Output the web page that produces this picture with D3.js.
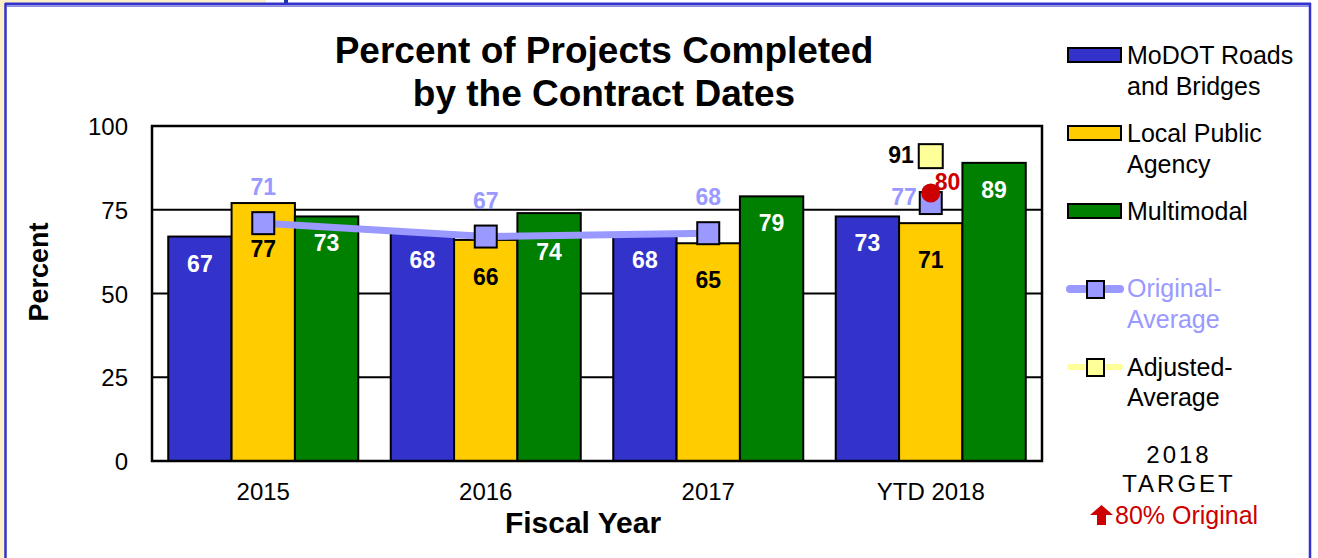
<!DOCTYPE html>
<meta charset="utf-8">
<html>
<head>
<title>Percent of Projects Completed</title>
<script src="https://d3js.org/d3.v7.min.js"></script>
<style>
    body { margin: 0; background: #fff; }
    text { font-family: Arial, "Liberation Sans", sans-serif; }
</style>
</head>
<body>
<div class="chart"></div>
<script>
// data
var years = ["2015", "2016", "2017", "YTD 2018"];
var modot = [67, 68, 68, 73];
var lpa = [77, 66, 65, 71];
var multimodal = [73, 74, 79, 89];
var originalAvg = [71, 67, 68, 77];
var adjustedAvg = [null, null, null, 91];
var target2018 = 80;
var yTicks = [0, 25, 50, 75, 100];
var seriesNames = ["MoDOT Roads|and Bridges", "Local Public|Agency", "Multimodal"];
var seriesColors = ["#3333cc", "#ffcc00", "#008000"];

var W = 1318, H = 558;
var plot = {left: 152, right: 1042, top: 126, bottom: 461};

var svg = d3.select(".chart").append("svg")
    .attr("width", W)
    .attr("height", H);

// frame and the bits of page around it
svg.append("rect").attr("x", 0).attr("y", 0).attr("width", 266).attr("height", 5).style("fill", "#fdf0c8");
svg.append("rect").attr("x", 0).attr("y", 0).attr("width", 5).attr("height", H).style("fill", "#fdf0c8");
svg.append("rect").attr("x", 284).attr("y", 0).attr("width", 4).attr("height", 5).style("fill", "#2233aa");
svg.append("line").attr("x1", 5).attr("x2", 1311).attr("y1", 4).attr("y2", 4)
    .style("stroke", "#3333cc").style("stroke-width", 3);
svg.append("line").attr("x1", 7).attr("x2", 1309).attr("y1", 6.5).attr("y2", 6.5)
    .style("stroke", "#8c8ce0").style("stroke-width", 1);
svg.append("line").attr("x1", 5.5).attr("x2", 5.5).attr("y1", 3).attr("y2", H)
    .style("stroke", "#3333cc").style("stroke-width", 2.5);
svg.append("line").attr("x1", 1310).attr("x2", 1310).attr("y1", 3).attr("y2", H)
    .style("stroke", "#3333cc").style("stroke-width", 2.5);

// title
svg.append("text").attr("x", 604).attr("y", 63).attr("text-anchor", "middle")
    .style("font-size", "37px").style("font-weight", "bold").text("Percent of Projects Completed");
svg.append("text").attr("x", 604).attr("y", 106).attr("text-anchor", "middle")
    .style("font-size", "37px").style("font-weight", "bold").text("by the Contract Dates");

// scales
var x = d3.scaleBand().domain(years).range([plot.left, plot.right]).paddingInner(0.146).paddingOuter(0.073);
var xs = d3.scaleBand().domain([0, 1, 2]).range([0, x.bandwidth()]);
var y = d3.scaleLinear().domain([0, 100]).range([plot.bottom, plot.top]);

// gridlines
svg.selectAll(".grid")
    .data(yTicks.slice(1, -1)).enter()
    .append("line")
    .attr("x1", plot.left).attr("x2", plot.right)
    .attr("y1", function(d){ return y(d); })
    .attr("y2", function(d){ return y(d); })
    .style("stroke", "black").style("stroke-width", 2);

// y axis labels
var yAxis = d3.axisLeft(y).tickValues(yTicks).tickSize(0).tickPadding(24);
var yg = svg.append("g").attr("transform", "translate(" + plot.left + ",0)").call(yAxis);
yg.select(".domain").remove();
yg.selectAll("text").style("font-size", "24px").style("fill", "black").attr("dy", "0.36em");

// x axis labels
var xAxis = d3.axisBottom(x).tickSize(0).tickPadding(22);
var xg = svg.append("g").attr("transform", "translate(0," + plot.bottom + ")").call(xAxis);
xg.select(".domain").remove();
xg.selectAll("text").style("font-size", "24px").style("fill", "black");

svg.append("text").attr("transform", "translate(48,272) rotate(-90)").attr("text-anchor", "middle")
    .style("font-size", "27px").style("font-weight", "bold").text("Percent");
svg.append("text").attr("x", 583).attr("y", 533).attr("text-anchor", "middle")
    .style("font-size", "30px").style("font-weight", "bold").text("Fiscal Year");

// bars
var series = [modot, lpa, multimodal];
var bars = [];
years.forEach(function(yr, i){
    series.forEach(function(s, j){
        bars.push({year: yr, i: i, s: j, v: s[i]});
    });
});

svg.selectAll(".bar")
    .data(bars).enter()
    .append("rect")
    .attr("x", function(d){ return x(d.year) + xs(d.s); })
    .attr("y", function(d){ return y(d.v); })
    .attr("width", xs.bandwidth())
    .attr("height", function(d){ return y(0) - y(d.v); })
    .style("fill", function(d){ return seriesColors[d.s]; })
    .style("stroke", "black")
    .style("stroke-width", 2);

// plot border
svg.append("rect")
    .attr("x", plot.left).attr("y", plot.top)
    .attr("width", plot.right - plot.left).attr("height", plot.bottom - plot.top)
    .style("fill", "none").style("stroke", "black").style("stroke-width", 2.5);

// original average line helpers (full fiscal years only)
var cx = function(i){ return x(years[i]) + x.bandwidth() / 2; };
var lineIdx = d3.range(years.length).filter(function(i){ return years[i].indexOf("YTD") < 0; });
function lineYAt(px){
    for (var k = 0; k < lineIdx.length - 1; k++) {
        var a = lineIdx[k], b = lineIdx[k + 1];
        if (px >= cx(a) && px <= cx(b)) {
            var t = (px - cx(a)) / (cx(b) - cx(a));
            return y(originalAvg[a]) + t * (y(originalAvg[b]) - y(originalAvg[a]));
        }
    }
    return null;
}

// bar labels
svg.selectAll(".blabel")
    .data(bars).enter()
    .append("text")
    .attr("x", function(d){ return x(d.year) + xs(d.s) + xs.bandwidth() / 2; })
    .attr("y", function(d){
        if (d.s == 1) {
            var avg = originalAvg[d.i];
            if (avg < d.v) return y(avg) + 34;
            return y(d.v) + 45;
        }
        var mid = y(d.v) + 27;
        var ly = lineYAt(x(d.year) + xs(d.s) + xs.bandwidth() / 2);
        if (ly != null && Math.abs(mid - ly) < 12) mid = ly + 16;
        return mid + 8;
    })
    .attr("text-anchor", "middle")
    .style("font-size", "23px").style("font-weight", "bold")
    .style("fill", function(d){ return d.s == 1 ? "black" : "white"; })
    .text(function(d){ return d.v; });

var line = d3.line()
    .x(function(i){ return cx(i); })
    .y(function(i){ return y(originalAvg[i]); });
svg.append("path").datum(lineIdx)
    .attr("d", line)
    .style("fill", "none").style("stroke", "#9999ff").style("stroke-width", 7);

var ms = 22;
svg.selectAll(".omark")
    .data(originalAvg).enter()
    .append("rect")
    .attr("x", function(d, i){ return cx(i) - ms / 2; })
    .attr("y", function(d){ return y(d) - ms / 2; })
    .attr("width", ms).attr("height", ms)
    .style("fill", "#9999ff").style("stroke", "black").style("stroke-width", 2);

svg.selectAll(".olabel")
    .data(originalAvg).enter()
    .append("text")
    .attr("x", function(d, i){ return years[i].indexOf("YTD") < 0 ? cx(i) : cx(i) - 14; })
    .attr("y", function(d, i){ return years[i].indexOf("YTD") < 0 ? y(d) - 28 : y(d) + 2; })
    .attr("text-anchor", function(d, i){ return years[i].indexOf("YTD") < 0 ? "middle" : "end"; })
    .style("font-size", "23px").style("font-weight", "bold").style("fill", "#9999ff")
    .text(function(d){ return d; });

// adjusted average
var adj = adjustedAvg.map(function(d, i){ return {i: i, v: d}; }).filter(function(d){ return d.v != null; });
svg.selectAll(".amark")
    .data(adj).enter()
    .append("rect")
    .attr("x", function(d){ return cx(d.i) - 12; })
    .attr("y", function(d){ return y(d.v) - 12; })
    .attr("width", 24).attr("height", 24)
    .style("fill", "#ffff99").style("stroke", "black").style("stroke-width", 2);
svg.selectAll(".alabel")
    .data(adj).enter()
    .append("text")
    .attr("x", function(d){ return cx(d.i) - 17; })
    .attr("y", function(d){ return y(d.v) + 7; })
    .attr("text-anchor", "end")
    .style("font-size", "23px").style("font-weight", "bold").style("fill", "black")
    .text(function(d){ return d.v; });

// target dot
var ti = years.length - 1;
svg.append("circle").attr("cx", cx(ti)).attr("cy", y(target2018)).attr("r", 9.5).style("fill", "#cc0000");
svg.append("text").attr("x", cx(ti) + 4).attr("y", y(target2018) - 3)
    .style("font-size", "23px").style("font-weight", "bold").style("fill", "#cc0000")
    .text(target2018);

// legend
var leg = svg.append("g");
var legY = [55, 133, 211];
seriesNames.forEach(function(name, j){
    leg.append("rect").attr("x", 1068).attr("y", legY[j] - 7).attr("width", 53).attr("height", 14)
        .style("fill", seriesColors[j]).style("stroke", "black").style("stroke-width", 2);
    name.split("|").forEach(function(t, k){
        leg.append("text").attr("x", 1127).attr("y", legY[j] + 9 + k * 31)
            .style("font-size", "25px").text(t);
    });
});

leg.append("line").attr("x1", 1070).attr("x2", 1120).attr("y1", 289).attr("y2", 289)
    .style("stroke", "#9999ff").style("stroke-width", 8).style("stroke-linecap", "round");
leg.append("rect").attr("x", 1087).attr("y", 281).attr("width", 17).attr("height", 17)
    .style("fill", "#9999ff").style("stroke", "black").style("stroke-width", 2);
leg.append("text").attr("x", 1127).attr("y", 297).style("font-size", "25px").style("fill", "#9999ff").text("Original-");
leg.append("text").attr("x", 1127).attr("y", 328).style("font-size", "25px").style("fill", "#9999ff").text("Average");

leg.append("line").attr("x1", 1070).attr("x2", 1120).attr("y1", 367).attr("y2", 367)
    .style("stroke", "#ffff99").style("stroke-width", 6).style("stroke-linecap", "round");
leg.append("rect").attr("x", 1087).attr("y", 359).attr("width", 17).attr("height", 17)
    .style("fill", "#ffff99").style("stroke", "black").style("stroke-width", 2);
leg.append("text").attr("x", 1127).attr("y", 376).style("font-size", "25px").text("Adjusted-");
leg.append("text").attr("x", 1127).attr("y", 406).style("font-size", "25px").text("Average");

leg.append("text").attr("x", 1179).attr("y", 463).attr("text-anchor", "middle")
    .style("font-size", "24px").style("letter-spacing", "3px").text("2018");
leg.append("text").attr("x", 1179).attr("y", 492).attr("text-anchor", "middle")
    .style("font-size", "24px").style("letter-spacing", "3px").text("TARGET");
leg.append("path").attr("d", "M1101.5,505 L1113,515 L1106,515 L1106,525 L1097,525 L1097,515 L1090,515 Z")
    .style("fill", "#cc0000");
leg.append("text").attr("x", 1115).attr("y", 524)
    .style("font-size", "25px").style("fill", "#cc0000").text("80% Original");
</script>
</body>
</html>
